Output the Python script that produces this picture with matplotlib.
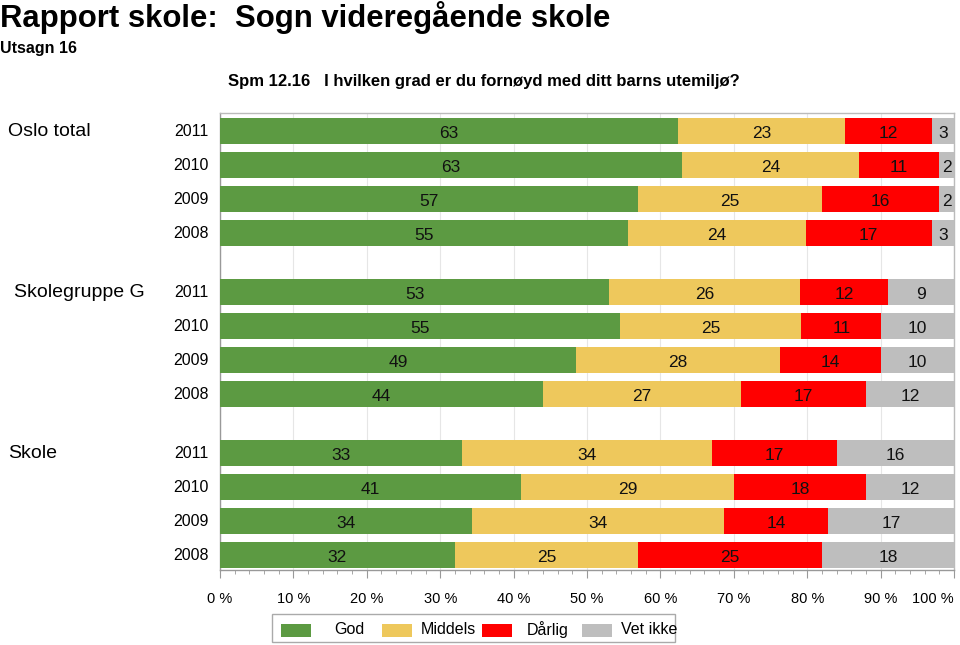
import matplotlib.pyplot as plt
from matplotlib.patches import Rectangle
from matplotlib.ticker import MultipleLocator
import numpy as np

plt.rcParams['font.family'] = ['Liberation Sans', 'DejaVu Sans']

# Data
groups = ['Oslo total', 'Skolegruppe G', 'Skole']
years = ['2011', '2010', '2009', '2008']
categories = ['God', 'Middels', 'Dårlig', 'Vet ikke']
colors = ['#5C9A42', '#EEC85C', '#FF0000', '#BEBEBE']
xticks = list(range(0, 101, 10))

oslo = [[63, 23, 12, 3],
        [63, 24, 11, 2],
        [57, 25, 16, 2],
        [55, 24, 17, 3]]
skolegruppe = [[53, 26, 12, 9],
               [55, 25, 11, 10],
               [49, 28, 14, 10],
               [44, 27, 17, 12]]
skole = [[33, 34, 17, 16],
         [41, 29, 18, 12],
         [34, 34, 14, 17],
         [32, 25, 25, 18]]
all_values = [oslo, skolegruppe, skole]

fig = plt.figure(figsize=(9.6, 6.45), dpi=100)
ax = fig.add_axes([220 / 960, 1 - 570 / 645, 734 / 960, 457 / 645])

group_step = 4.735
first = 0.53
bar_h = 0.76

for g, values in enumerate(all_values):
    for j, row in enumerate(values):
        y = first + g * group_step + j
        row = np.array(row, dtype=float)
        pct = row / row.sum() * 100
        left = 0
        for k, (v, p) in enumerate(zip(row, pct)):
            ax.barh(y, p, left=left, height=bar_h, color=colors[k], zorder=3)
            ax.text(left + p / 2, y + 0.06, f'{int(v)}', ha='center', va='center',
                    fontsize=12.5, color='#111111', zorder=4)
            left += p
        ax.text(-1.6, y, years[j], ha='right', va='center', fontsize=11.5,
                clip_on=False)
    gx = [8, 14, 8][g]
    ax.text(gx / 960, 1 - (113 + (first + g * group_step) * 34) / 645, groups[g],
            ha='left', va='center', fontsize=14, transform=fig.transFigure)

ax.set_xlim(0, 100)
ax.set_ylim(first + 2 * group_step + 3 + 0.44, 0)
ax.set_yticks([])
ax.set_xticks(xticks)
ax.set_xticklabels([f'{t} %' for t in xticks])
ax.get_xticklabels()[-1].set_horizontalalignment('right')
ax.xaxis.set_minor_locator(MultipleLocator(2))
ax.tick_params(axis='x', which='major', length=6, color='#999999', labelsize=10.5, pad=10)
ax.tick_params(axis='x', which='minor', length=3, color='#999999')
ax.grid(axis='x', which='major', color='#E6E6E6', lw=0.8, zorder=0)
for s in ax.spines.values():
    s.set_color('#BBBBBB')
    s.set_linewidth(1.0)
ax.spines['left'].set_color('#999999')
ax.spines['bottom'].set_color('#999999')

# Titles
fig.text(0 / 960, 1 - 27 / 645, 'Rapport skole:  Sogn videregående skole', fontsize=22.4,
         fontweight='bold', ha='left', va='baseline')
fig.text(0 / 960, 1 - 53 / 645, 'Utsagn 16', fontsize=11.5, fontweight='bold',
         ha='left', va='baseline')
fig.text(228 / 960, 1 - 86 / 645,
         'Spm 12.16   I hvilken grad er du fornøyd med ditt barns utemiljø?',
         fontsize=12, fontweight='bold', ha='left', va='baseline')

# Legend
fig.add_artist(Rectangle((272 / 960, 1 - 642 / 645), 403 / 960, 28 / 645,
                         transform=fig.transFigure, facecolor='white',
                         edgecolor='#AAAAAA', lw=1))
patch_x = [281, 382, 482, 582]
text_x = [334, 421, 527, 621]
for k, cat in enumerate(categories):
    fig.add_artist(Rectangle((patch_x[k] / 960, 1 - 637 / 645), 30 / 960, 13 / 645,
                             transform=fig.transFigure, facecolor=colors[k],
                             edgecolor='none'))
    fig.text(text_x[k] / 960, 1 - 630 / 645, cat, fontsize=11.5, ha='left', va='center')

fig.savefig('out.png', dpi=100)
